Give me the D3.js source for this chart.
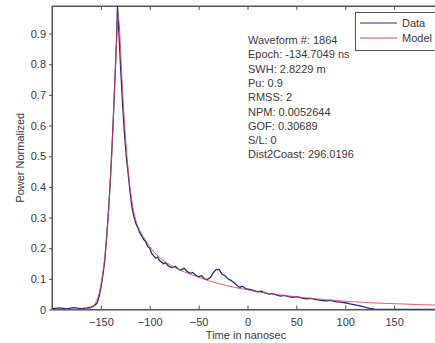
<!DOCTYPE html>
<html>
<head>
<meta charset="utf-8">
<script src="https://cdn.jsdelivr.net/npm/d3@7"></script>
<style>
  body { margin: 0; background: #fff; }
  svg text { font-family: "Liberation Sans", Arial, sans-serif; fill: #3a3a3a; }
</style>
</head>
<body>
<div id="chart"></div>
<script>
// waveform samples (time in ns, normalized power)
const dataTime = [-200, -192, -185, -178, -170, -164, -160, -157, -154, -152, -150, -148, -146, -144, -142, -140, -138, -136, -134, -133,
  -132, -130, -128, -126, -124, -122, -120, -118, -116, -114, -112, -110, -108, -106, -104, -102, -100, -98, -96, -94,
  -92, -90, -88, -86, -84, -82, -80, -77, -74, -71, -68, -65, -62, -59, -56, -53, -50, -47, -44, -41,
  -38, -35, -32, -29, -26, -23, -20, -17, -14, -11, -8, -5, -2, 2, 6, 10, 14, 18, 22, 26,
  30, 34, 38, 42, 46, 50, 55, 60, 65, 70, 75, 80, 85, 90, 95, 100, 105, 110, 115, 120,
  125, 130, 135, 150, 170, 200];
const dataPower = [0.003, 0.005, 0.002, 0.006, 0.003, 0.005, 0.008, 0.012, 0.02, 0.04, 0.07, 0.11, 0.16, 0.24, 0.33, 0.44, 0.57, 0.72, 0.88, 0.99,
  0.93, 0.80, 0.68, 0.58, 0.50, 0.44, 0.38, 0.33, 0.30, 0.28, 0.265, 0.25, 0.238, 0.228, 0.22, 0.205, 0.20, 0.183, 0.175, 0.168,
  0.171, 0.16, 0.155, 0.149, 0.153, 0.145, 0.14, 0.137, 0.141, 0.132, 0.128, 0.135, 0.125, 0.118, 0.121, 0.112, 0.106, 0.111, 0.10, 0.098,
  0.104, 0.12, 0.131, 0.13, 0.115, 0.11, 0.10, 0.095, 0.088, 0.079, 0.072, 0.076, 0.068, 0.066, 0.062, 0.058, 0.06, 0.054, 0.05, 0.052,
  0.047, 0.044, 0.046, 0.042, 0.04, 0.042, 0.038, 0.035, 0.036, 0.032, 0.03, 0.028, 0.03, 0.026, 0.024, 0.022, 0.018, 0.015, 0.012, 0.008,
  0.004, 0.001, 0, 0, 0, 0];

// fitted model
const modelTime = [-200, -170, -162, -158, -155, -152, -150, -148, -146, -144, -142, -140, -138, -136, -134, -132.5, -131, -129, -127, -125,
  -123, -121, -119, -117, -115, -112, -109, -105, -100, -95, -90, -85, -80, -70, -60, -50, -40, -30, -20, -10,
  0, 20, 40, 60, 80, 100, 125, 150, 175, 200];
const modelPower = [0, 0, 0.003, 0.01, 0.025, 0.05, 0.08, 0.12, 0.17, 0.24, 0.33, 0.44, 0.57, 0.72, 0.87, 0.96, 0.92, 0.79, 0.67, 0.57,
  0.49, 0.42, 0.37, 0.33, 0.30, 0.27, 0.25, 0.23, 0.205, 0.185, 0.17, 0.157, 0.147, 0.13, 0.117, 0.105, 0.094, 0.085, 0.077, 0.07,
  0.064, 0.053, 0.045, 0.038, 0.032, 0.027, 0.022, 0.019, 0.016, 0.014];

const xTicks = [-150, -100, -50, 0, 50, 100, 150];
const yTicks = [0, 0.1, 0.2, 0.3, 0.4, 0.5, 0.6, 0.7, 0.8, 0.9];

const infoLines = ["Waveform #: 1864", "Epoch: -134.7049 ns", "SWH: 2.8229 m", "Pu: 0.9", "RMSS: 2",
  "NPM: 0.0052644", "GOF: 0.30689", "S/L: 0", "Dist2Coast: 296.0196"];
const legendNames = ["Data", "Model"];
const colors = ["#27287f", "#d8475e"];

const W = 435, H = 343;
const pLeft = 52, pRight = 443, pTop = 6, pBottom = 309.5;

const svg = d3.select("#chart").append("svg")
  .attr("width", W)
  .attr("height", H);

const x = d3.scaleLinear().domain([-200, 200]).range([pLeft, pRight]);
const y = d3.scaleLinear().domain([0, d3.max(dataPower)]).range([pBottom, pTop]);

const line = d3.line()
  .x(d => x(d[0]))
  .y(d => y(d[1]));

// box
svg.append("rect")
  .attr("x", pLeft).attr("y", pTop)
  .attr("width", pRight - pLeft).attr("height", pBottom - pTop)
  .attr("fill", "none").attr("stroke", "#555").attr("stroke-width", 1);

// axes
const xAxis = svg.append("g")
  .attr("transform", "translate(0," + pBottom + ")")
  .call(d3.axisBottom(x).tickValues(xTicks).tickSizeInner(-4).tickSizeOuter(0).tickPadding(9));
const xTop = svg.append("g")
  .attr("transform", "translate(0," + pTop + ")")
  .call(d3.axisTop(x).tickValues(xTicks).tickSizeInner(-4).tickSizeOuter(0).tickFormat(""));
const yAxis = svg.append("g")
  .attr("transform", "translate(" + pLeft + ",0)")
  .call(d3.axisLeft(y).tickValues(yTicks).tickSizeInner(3).tickSizeOuter(0).tickPadding(3)
    .tickFormat(d => d === 0 ? "0" : d3.format(".1f")(d)));

[xAxis, xTop, yAxis].forEach(g => {
  g.select(".domain").attr("stroke", "#555");
  g.selectAll(".tick line").attr("stroke", "#555");
  g.selectAll(".tick text").style("font-size", "11px").attr("fill", "#3a3a3a");
});

// axis labels
svg.append("text")
  .attr("x", 246).attr("y", 339)
  .attr("text-anchor", "middle")
  .style("font-size", "11px")
  .text("Time in nanosec");

svg.append("text")
  .attr("transform", "translate(24," + (pTop + pBottom) / 2 + ") rotate(-90)")
  .attr("text-anchor", "middle")
  .style("font-size", "11px")
  .text("Power Normalized");

// series
svg.append("clipPath").attr("id", "plotclip")
  .append("rect").attr("x", pLeft).attr("y", pTop - 1).attr("width", pRight - pLeft).attr("height", pBottom - pTop + 1);

const plot = svg.append("g").attr("clip-path", "url(#plotclip)");

plot.append("path")
  .datum(d3.zip(dataTime, dataPower))
  .attr("d", line)
  .attr("fill", "none")
  .attr("stroke", colors[0])
  .attr("stroke-width", 1.3);

plot.append("path")
  .datum(d3.zip(modelTime, modelPower))
  .attr("d", line.curve(d3.curveMonotoneX))
  .attr("fill", "none")
  .attr("stroke", colors[1])
  .attr("stroke-width", 1)
  .attr("stroke-opacity", 0.85);

// info text
svg.append("g").selectAll("text")
  .data(infoLines)
  .enter().append("text")
  .attr("x", 248)
  .attr("y", (d, i) => 44 + i * 14.3)
  .style("font-size", "11px")
  .text(d => d);

// legend
const lg = svg.append("g");
lg.append("rect")
  .attr("x", 355.5).attr("y", 12.5)
  .attr("width", 100).attr("height", 38)
  .attr("fill", "#fff").attr("stroke", "#555");
legendNames.forEach((name, i) => {
  lg.append("line")
    .attr("x1", 360).attr("x2", 397)
    .attr("y1", 23 + i * 15).attr("y2", 23 + i * 15)
    .attr("stroke", colors[i]).attr("stroke-width", 1);
  lg.append("text")
    .attr("x", 402).attr("y", 27 + i * 15)
    .style("font-size", "11px")
    .text(name);
});
</script>
</body>
</html>
